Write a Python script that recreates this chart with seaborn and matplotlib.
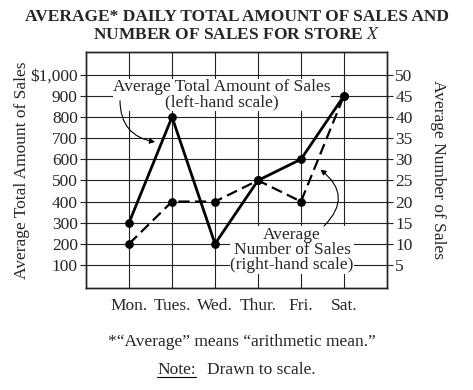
import matplotlib
matplotlib.use("Agg")
import matplotlib.pyplot as plt
import seaborn as sns
import pandas as pd
from matplotlib.lines import Line2D

days = ["Mon.", "Tues.", "Wed.", "Thur.", "Fri.", "Sat."]
total_amount = [300, 800, 200, 500, 600, 900]
number_of_sales = [10, 20, 20, 25, 20, 45]
left_ticks = [100, 200, 300, 400, 500, 600, 700, 800, 900, 1000]
left_labels = ["100", "200", "300", "400", "500", "600", "700", "800", "900", "$1,000"]
right_ticks = [5, 10, 15, 20, 25, 30, 35, 40, 45, 50]

sns.set_theme(style="white")
plt.rcParams["font.family"] = ["Liberation Serif", "DejaVu Serif"]
plt.rcParams["mathtext.fontset"] = "stix"

FS = 12.5

pos = list(range(1, len(days) + 1))
df = pd.DataFrame({"pos": pos, "day": days, "total": total_amount, "number": number_of_sales})

fig = plt.figure(figsize=(4.73, 3.90), dpi=100)
ax = fig.add_axes([0.182, 0.262, 0.636, 0.605])
ax2 = ax.twinx()

ax.set_xlim(0, 7)
ax.set_ylim(-8, 1108)
ax2.set_ylim(-8 / 20, 1108 / 20)

# grid
for y in left_ticks:
    ax.axhline(y, color="#222222", lw=0.8, zorder=1)
for x in pos:
    ax.axvline(x, color="#222222", lw=0.8, zorder=1)

sns.lineplot(data=df, x="pos", y="total", ax=ax, color="black", lw=2.0,
             marker="o", markersize=5.5, markeredgecolor="black", zorder=3)
sns.lineplot(data=df, x="pos", y="number", ax=ax2, color="black", lw=1.6,
             marker="o", markersize=5.5, markeredgecolor="black", zorder=3)
ax2.lines[-1].set_dashes([5, 2.5])

ax.set_xticks(pos)
ax.set_xticklabels(days, fontsize=FS)
ax.set_yticks(left_ticks)
ax.set_yticklabels(left_labels, fontsize=FS)
ax2.set_yticks(right_ticks)
ax2.set_yticklabels([str(t) for t in right_ticks], fontsize=FS)
ax.set_xlabel("")
ax2.set_xlabel("")
ax.set_ylabel("Average Total Amount of Sales", fontsize=FS, labelpad=0)
ax2.set_ylabel("Average Number of Sales", fontsize=FS, rotation=270, labelpad=24)

for a in (ax, ax2):
    a.tick_params(axis="both", direction="out", length=4, width=0.8, color="#222222", pad=2)
    for s in a.spines.values():
        s.set_color("#222222")
        s.set_linewidth(1.0)
ax.tick_params(axis="x", pad=3)

# annotations
bb = dict(fc="white", ec="none", pad=0.3)
ax.text(3.16, 905, "Average Total Amount of Sales\n(left-hand scale)", ha="center", va="center",
        fontsize=FS, linespacing=0.95, bbox=bb, zorder=4)
ax.annotate("", xy=(1.67, 680), xytext=(0.79, 890),
            arrowprops=dict(arrowstyle="-|>", color="black", lw=0.8, mutation_scale=8,
                            connectionstyle="arc3,rad=0.45"), zorder=4)
ax.text(4.79, 171, "Average\nNumber of Sales\n(right-hand scale)", ha="center", va="center",
        fontsize=FS, linespacing=0.95, bbox=bb, zorder=4)
ax.annotate("", xy=(5.4, 559), xytext=(5.49, 275),
            arrowprops=dict(arrowstyle="-|>", color="black", lw=0.8, mutation_scale=8,
                            connectionstyle="arc3,rad=0.6"), zorder=4)

fig.text(0.5, 0.934, "AVERAGE* DAILY TOTAL AMOUNT OF SALES AND\nNUMBER OF SALES FOR STORE $\\mathit{X}$",
         ha="center", va="center", fontsize=12.5, fontweight="bold", linespacing=1.15)
fig.text(0.512, 0.123, "*\u201cAverage\u201d means \u201carithmetic mean.\u201d", ha="center", va="center", fontsize=FS)
note = fig.text(0.332, 0.051, "Note:", ha="left", va="center", fontsize=FS)
fig.text(0.437, 0.051, "Drawn to scale.", ha="left", va="center", fontsize=FS)

fig.canvas.draw()
ext = note.get_window_extent()
W, H = fig.bbox.width, fig.bbox.height
fig.add_artist(Line2D([ext.x0 / W, ext.x1 / W], [(ext.y0 + 1) / H] * 2, color="black", lw=0.8))

fig.savefig("out.png", dpi=100)
